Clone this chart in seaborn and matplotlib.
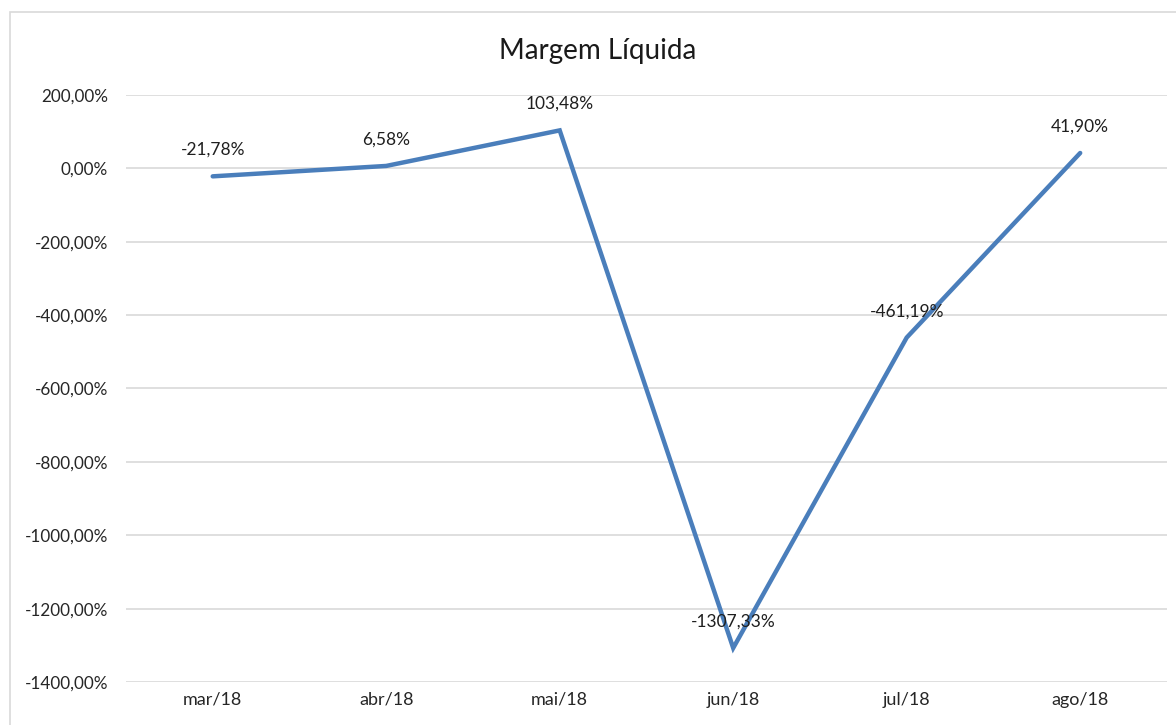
"""Margem Liquida line chart."""

import matplotlib
matplotlib.use('Agg')
import matplotlib.pyplot as plt
import matplotlib.ticker as mtick
from matplotlib.patches import Rectangle
import numpy as np
import pandas as pd
import seaborn as sns

# Data
meses = ['mar/18', 'abr/18', 'mai/18', 'jun/18', 'jul/18', 'ago/18']
margem = [-21.78, 6.58, 103.48, -1307.33, -461.19, 41.90]
rotulos = ['-21,78%', '6,58%', '103,48%', '-1307,33%', '-461,19%', '41,90%']
y_ticks = [200, 0, -200, -400, -600, -800, -1000, -1200, -1400]


def pct_fmt(y, pos):
    """Excel-style percent labels with comma decimals."""
    return '{:.2f}%'.format(y).replace('.', ',')


sns.set_style('white')
plt.rcParams['font.family'] = ['Lato', 'DejaVu Sans']

df = pd.DataFrame({'mes': meses, 'margem': margem})
df['pos'] = np.arange(len(meses))

fig = plt.figure(figsize=(11.76, 7.25), dpi=100)
ax = fig.add_axes([0.1071, 0.0593, 0.8852, 0.8097])

sns.lineplot(data=df, x='pos', y='margem', ax=ax, color='#4A7EBB',
             linewidth=3.2, solid_capstyle='round', solid_joinstyle='miter')

# Data labels above each point
for x, y, txt in zip(df['pos'], margem, rotulos):
    ax.annotate(txt, (x, y), xytext=(0, 19), textcoords='offset points',
                ha='center', va='center', fontsize=12.5, color='#1f1f1f')

# Axes formatting
ax.set_xlim(-0.5, len(meses) - 0.5)
ax.set_ylim(-1400, 200)
ax.set_yticks(y_ticks)
ax.yaxis.set_major_formatter(mtick.FuncFormatter(pct_fmt))
ax.set_xticks(df['pos'])
ax.set_xticklabels(meses)
ax.grid(axis='y', color='#D9D9D9', linewidth=1.2)
ax.set_axisbelow(True)
for s in ax.spines.values():
    s.set_visible(False)
ax.tick_params(axis='y', length=0, labelsize=12.3, labelcolor='#262626', pad=13)
ax.tick_params(axis='x', length=0, labelsize=13, labelcolor='#262626', pad=7)
ax.set_xlabel('')
ax.set_ylabel('')

fig.text(0.508, 0.929, 'Margem Líquida', ha='center', va='center',
         fontsize=20, color='#1a1a1a')

# Chart area border (cut off at right and bottom as in the reference)
fig.patches.append(Rectangle((10 / 1176, -0.05), 1.2, 1 - 12 / 725 + 0.05,
                             transform=fig.transFigure, fill=False,
                             edgecolor='#D9D9D9', linewidth=1.2))

fig.savefig('out.png', dpi=100, facecolor='white')
